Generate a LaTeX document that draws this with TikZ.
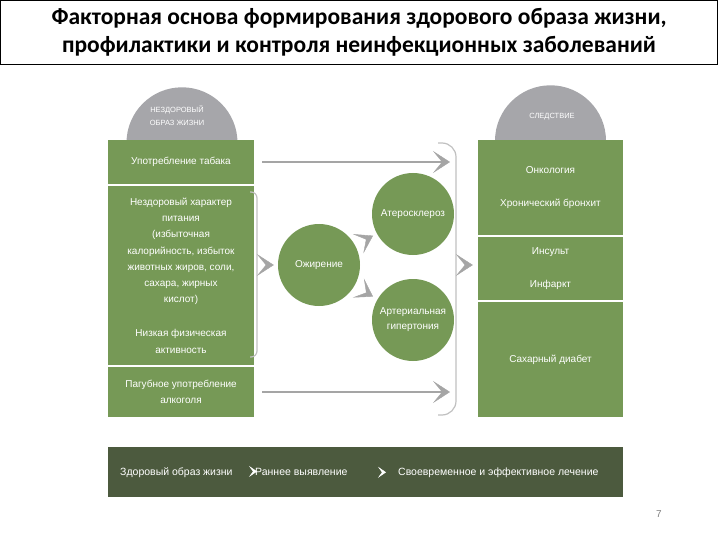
\documentclass[tikz,border=0pt]{standalone}
\usepackage{fontspec}
\setmainfont{Liberation Sans}
\newfontfamily\headfont{Carlito}
\usetikzlibrary{calc,positioning,arrows.meta,shapes.geometric}
\definecolor{leaf}{RGB}{118,153,86}
\definecolor{capgray}{RGB}{166,166,170}
\definecolor{barolive}{RGB}{76,90,62}
\definecolor{linkgray}{RGB}{165,165,165}
\definecolor{bracketgray}{RGB}{192,192,192}
\tikzset{
   factor/.style={ rectangle, fill=leaf, text=white, minimum width=146pt, inner sep=0pt, align=center, font=\fontsize{10}{16.3}\selectfont},
   result/.style={ rectangle, fill=leaf, text=white, minimum width=145pt, inner sep=0pt, align=center, font=\fontsize{10}{33}\selectfont},
   dome/.style={ semicircle, fill=capgray, minimum width=111pt, inner sep=0pt, anchor=chord center},
   dome text/.style={ text=white, align=center, inner sep=0pt, font=\fontsize{7.5}{13}\selectfont},
   disease/.style={ circle, fill=leaf, text=white, minimum size=82pt, inner sep=0pt, align=center, font=\fontsize{10}{15}\selectfont},
   bar text/.style={ text=white, inner sep=0pt, anchor=base west, font=\fontsize{10.5}{12}\selectfont},
   link/.style={ draw=linkgray, line width=2pt, -{Stealth[length=17pt,width=22pt,inset=9pt,line width=0.4pt]}},
   chev/.style={ draw=linkgray, line width=0.4pt, -{Stealth[length=17pt,width=22pt,inset=9pt]}},
   white chev/.style={ draw=white, line width=0.4pt, -{Stealth[length=8pt,width=11pt,inset=4pt]}},
   bracket/.style={ draw=bracketgray, line width=1.2pt}
}
\begin{document}
\begin{tikzpicture}[x=1pt,y=-1pt]
  \useasboundingbox (0,0) rectangle (720,540);

  \node[draw=black, line width=1pt, minimum width=717pt, minimum height=64pt, inner sep=0pt, align=center,
        font=\headfont\bfseries\fontsize{23.5}{28}\selectfont] at (359,32.5) (title)
        {Факторная основа формирования здорового образа жизни,\\профилактики и контроля неинфекционных заболеваний};

  %% Domes
  \node[dome] at (182,143) (cause)  {};
  \node[dome] at (550.5,141) (effect) {};
  \node[dome text] at (177,116) (cause text)  {НЕЗДОРОВЫЙ\\ОБРАЗ ЖИЗНИ};
  \node[dome text] at (552,117) (effect text) {СЛЕДСТВИЕ};

  \node[factor, minimum height=44pt]  at (181,162)   (tob)  {Употребление табака};
  \node[factor, minimum height=179pt] at (181,275.5) (diet) {Нездоровый характер\\питания\\(избыточная\\калорийность, избыток\\животных жиров, соли,\\сахара, жирных\\кислот)\\[17.7pt]Низкая физическая\\активность};
  \node[factor, minimum height=50pt]  at (181,392)   (alc)  {Пагубное употребление\\алкоголя};

  \node[result, minimum height=95pt]  at (550.5,187.5) (onc)  {Онкология\\Хронический бронхит};
  \node[result, minimum height=63pt]  at (550.5,268.5) (cvd)  {Инсульт\\Инфаркт};
  \node[result, minimum height=115pt] at (550.5,359.5) (diab) {Сахарный диабет};

  \node[disease] at (319,265) (ozh) {Ожирение};
  \node[disease] at (413,214) (ath) {Атеросклероз};
  \node[disease] at (413,320) (hyp) {Артериальная\\гипертония};

  \coordinate (lbr) at (257,265);
  \coordinate (rbr) at (456,265);

  \draw[bracket, rounded corners=6pt]  ($(lbr)+(-7,-73)$) -- ($(lbr)+(0,-73)$) -- ($(lbr)+(0,92)$) -- ($(lbr)+(-7,92)$);
  \draw[bracket, rounded corners=14pt] ($(rbr)+(-18,-122)$) -- ($(rbr)+(0,-122)$) -- ($(rbr)+(0,150)$) -- ($(rbr)+(-18,150)$);

  \draw[link, shorten >=6pt] ([xshift=8pt]tob.east) -- (tob.east -| rbr);
  \draw[link, shorten >=6pt] ([xshift=8pt]alc.east) -- (alc.east -| rbr);

  \draw[chev, shorten <=10pt, shorten >=4pt] (lbr) -- (ozh.west);
  \draw[chev] ($(ozh)!0.5!(ath)$) -- ($(ozh)!0.575!(ath)$);
  \draw[chev] ($(ozh)!0.5!(hyp)$) -- ($(ozh)!0.575!(hyp)$);
  \draw[chev, shorten <=9pt, shorten >=5pt] (rbr) -- (rbr -| cvd.west);

  %% Bottom bar
  \node[fill=barolive, minimum width=515pt, minimum height=50pt, inner sep=0pt] at (365.5,472) (bar) {};
  \node[bar text] at (120,475) (hls)   {Здоровый образ жизни};
  \node[bar text] at (255,475) (early) {Раннее выявление};
  \node[bar text] at (398,475) (treat) {Своевременное и эффективное лечение};
  \draw[white chev] ($(early.west)+(-2,0)$) -- ($(early.west)+(2,0)$);
  \draw[white chev] ($(treat.west)+(-16,0)$) -- ($(treat.west)+(-12,0)$);

  \node[text=gray, font=\fontsize{10}{12}\selectfont] at (659,514) (page) {7};

\end{tikzpicture}
\end{document}
